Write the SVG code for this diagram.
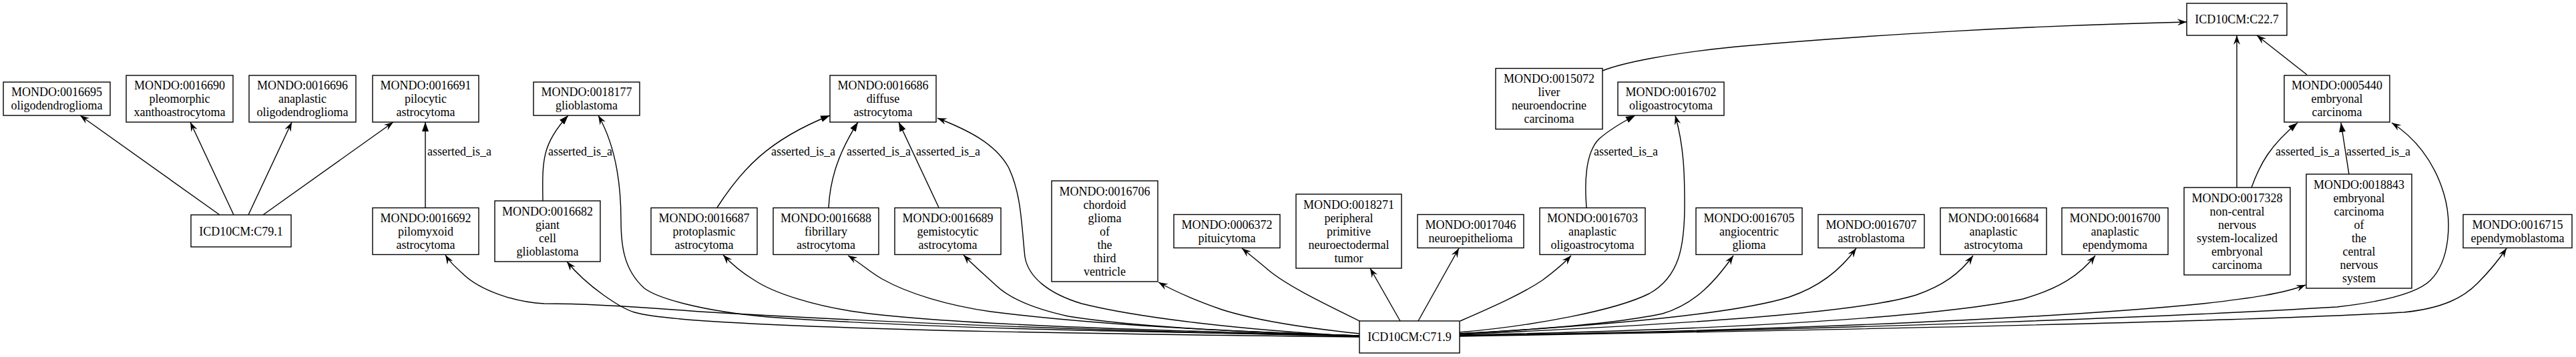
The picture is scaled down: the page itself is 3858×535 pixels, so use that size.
<svg xmlns="http://www.w3.org/2000/svg" width="3858" height="535" viewBox="0 0 3858 535">
<style>
.node rect{fill:#fff;stroke:#000;stroke-width:1.4}
.node text,.lbl{font-family:"Liberation Serif","Times New Roman",serif;font-size:18px;fill:#000;text-anchor:middle}
.e{fill:none;stroke:#000;stroke-width:1.4}
.v{marker-end:url(#vee)}
.t{marker-end:url(#tri)}
</style>
<defs>
<marker id="vee" viewBox="0 0 14 10" refX="14" refY="5" markerWidth="14" markerHeight="10" orient="auto" markerUnits="userSpaceOnUse"><path d="M0,0 L14,5 L0,10 L5,5 Z" fill="#000"/></marker>
<marker id="tri" viewBox="0 0 14 10" refX="14" refY="5" markerWidth="14" markerHeight="10" orient="auto" markerUnits="userSpaceOnUse"><path d="M0,0 L14,5 L0,10 Z" fill="#000"/></marker>
</defs>
<rect width="3858" height="535" fill="#fff"/>
<g id="edges">
<path class="e v" d="M329,322 L120,173"/>
<path class="e v" d="M350,322 L285,183"/>
<path class="e v" d="M372,322 L437,183"/>
<path class="e v" d="M394,322 L589,183"/>
<path class="e t" d="M637,311 L637,183"/>
<text class="lbl" x="688" y="233">asserted_is_a</text>
<path class="e t" d="M813,301 C812,240 812,215 851,173"/>
<text class="lbl" x="869" y="233">asserted_is_a</text>
<path class="e v" d="M2036,503 C1700,497 1400,493 1150,475 C1050,466 985,447 965,432 C935,405 930,370 930,330 C930,270 920,215 896,173"/>
<path class="e v" d="M2036,504 C1600,495 1300,482 1048,467 C960,460 880,455 815,455 C770,453 720,435 695,412 C682,400 673,392 667,382"/>
<path class="e v" d="M2036,505 C1600,500 1300,495 1089,483 C1020,479 975,475 950,468 C930,462 880,430 849,392"/>
<path class="e v" d="M2036,503 C1700,495 1400,485 1280,467 C1220,458 1160,440 1130,420 C1110,408 1095,395 1083,382"/>
<path class="e v" d="M2036,503 C1850,497 1650,488 1484,467 C1420,458 1360,440 1321,418 C1300,406 1290,395 1270,383"/>
<path class="e v" d="M2036,503 C1850,497 1700,490 1600,474 C1545,462 1510,445 1492,428 C1475,412 1458,398 1443,382"/>
<path class="e v" d="M2036,504 C1850,494 1700,475 1620,455 C1570,440 1540,415 1535,385 C1530,340 1530,290 1510,250 C1490,215 1450,195 1404,177"/>
<path class="e v" d="M2036,500 C1960,492 1880,480 1830,464 C1790,450 1760,437 1735,423"/>
<path class="e v" d="M2036,481 C1990,458 1930,430 1900,405 C1885,392 1872,382 1860,372"/>
<path class="e v" d="M2097,481 L2052,402"/>
<path class="e v" d="M2124,481 L2185,372"/>
<path class="e v" d="M2187,481 C2240,458 2280,440 2310,420 C2330,405 2342,395 2353,383"/>
<path class="e v" d="M2186,498 C2300,488 2420,465 2470,440 C2515,415 2523,370 2523,307 C2523,260 2522,220 2509,173"/>
<path class="e v" d="M2186,500 C2300,494 2420,485 2490,470 C2540,455 2570,420 2596,383"/>
<path class="e v" d="M2186,500 C2400,488 2600,470 2680,445 C2730,428 2760,400 2780,372"/>
<path class="e v" d="M2186,501 C2500,487 2780,470 2870,442 C2910,428 2935,410 2955,383"/>
<path class="e v" d="M2186,502 C2600,494 2900,475 3030,448 C3085,432 3115,412 3138,383"/>
<path class="e v" d="M2186,503 C2700,495 3100,475 3300,455 C3370,447 3420,440 3453,427"/>
<path class="e v" d="M2186,503 C2800,494 3300,472 3500,460 C3570,452 3620,440 3640,420 C3670,390 3672,330 3660,290 C3645,240 3615,205 3582,184"/>
<path class="e v" d="M2186,504 C2900,492 3400,480 3600,468 C3660,462 3690,445 3710,425 C3728,407 3742,390 3754,372"/>
<path class="e t" d="M2376,311 C2372,260 2378,225 2395,208 C2410,195 2430,183 2449,173"/>
<text class="lbl" x="2435" y="233">asserted_is_a</text>
<path class="e v" d="M2400,106 C2430,94 2500,80 2600,70 C2800,52 3050,38 3275,33"/>
<path class="e v" d="M3350,281 L3350,53"/>
<path class="e v" d="M3455,112 L3380,53"/>
<path class="e t" d="M3372,281 C3385,245 3400,218 3441,184"/>
<text class="lbl" x="3456" y="233">asserted_is_a</text>
<path class="e t" d="M3518,261 L3506,184"/>
<text class="lbl" x="3562" y="233">asserted_is_a</text>
<path class="e t" d="M1074,311 C1110,255 1150,210 1243,173"/>
<text class="lbl" x="1203" y="233">asserted_is_a</text>
<path class="e t" d="M1241,311 C1243,270 1255,230 1285,183"/>
<text class="lbl" x="1316" y="233">asserted_is_a</text>
<path class="e t" d="M1406,311 L1346,183"/>
<text class="lbl" x="1420" y="233">asserted_is_a</text>
</g>
<g id="n0016695" class="node"><rect x="5" y="123" width="160" height="50"/><text><tspan x="85" y="144">MONDO:0016695</tspan><tspan x="85" y="164">oligodendroglioma</tspan></text></g>
<g id="n0016690" class="node"><rect x="189" y="113" width="160" height="70"/><text><tspan x="269" y="134">MONDO:0016690</tspan><tspan x="269" y="154">pleomorphic</tspan><tspan x="269" y="174">xanthoastrocytoma</tspan></text></g>
<g id="n0016696" class="node"><rect x="373" y="113" width="160" height="70"/><text><tspan x="453" y="134">MONDO:0016696</tspan><tspan x="453" y="154">anaplastic</tspan><tspan x="453" y="174">oligodendroglioma</tspan></text></g>
<g id="n0016691" class="node"><rect x="558" y="113" width="159" height="70"/><text><tspan x="637.5" y="134">MONDO:0016691</tspan><tspan x="637.5" y="154">pilocytic</tspan><tspan x="637.5" y="174">astrocytoma</tspan></text></g>
<g id="nC79_1" class="node"><rect x="286" y="322" width="150" height="48"/><text><tspan x="361" y="352.5">ICD10CM:C79.1</tspan></text></g>
<g id="n0016692" class="node"><rect x="558" y="311.5" width="159" height="70"/><text><tspan x="637.5" y="332.5">MONDO:0016692</tspan><tspan x="637.5" y="352.5">pilomyxoid</tspan><tspan x="637.5" y="372.5">astrocytoma</tspan></text></g>
<g id="n0018177" class="node"><rect x="799" y="123" width="159" height="50"/><text><tspan x="878.5" y="144">MONDO:0018177</tspan><tspan x="878.5" y="164">glioblastoma</tspan></text></g>
<g id="n0016682" class="node"><rect x="741" y="301" width="158" height="91"/><text><tspan x="820" y="322.5">MONDO:0016682</tspan><tspan x="820" y="342.5">giant</tspan><tspan x="820" y="362.5">cell</tspan><tspan x="820" y="382.5">glioblastoma</tspan></text></g>
<g id="n0016687" class="node"><rect x="975" y="311.5" width="159" height="70"/><text><tspan x="1054.5" y="332.5">MONDO:0016687</tspan><tspan x="1054.5" y="352.5">protoplasmic</tspan><tspan x="1054.5" y="372.5">astrocytoma</tspan></text></g>
<g id="n0016688" class="node"><rect x="1158" y="311.5" width="158" height="70"/><text><tspan x="1237" y="332.5">MONDO:0016688</tspan><tspan x="1237" y="352.5">fibrillary</tspan><tspan x="1237" y="372.5">astrocytoma</tspan></text></g>
<g id="n0016686" class="node"><rect x="1243" y="113" width="159" height="70"/><text><tspan x="1322.5" y="134">MONDO:0016686</tspan><tspan x="1322.5" y="154">diffuse</tspan><tspan x="1322.5" y="174">astrocytoma</tspan></text></g>
<g id="n0016689" class="node"><rect x="1340" y="311.5" width="159" height="70"/><text><tspan x="1419.5" y="332.5">MONDO:0016689</tspan><tspan x="1419.5" y="352.5">gemistocytic</tspan><tspan x="1419.5" y="372.5">astrocytoma</tspan></text></g>
<g id="n0016706" class="node"><rect x="1575" y="271" width="159" height="151"/><text><tspan x="1654.5" y="292.5">MONDO:0016706</tspan><tspan x="1654.5" y="312.5">chordoid</tspan><tspan x="1654.5" y="332.5">glioma</tspan><tspan x="1654.5" y="352.5">of</tspan><tspan x="1654.5" y="372.5">the</tspan><tspan x="1654.5" y="392.5">third</tspan><tspan x="1654.5" y="412.5">ventricle</tspan></text></g>
<g id="n0006372" class="node"><rect x="1758" y="321.5" width="159" height="50"/><text><tspan x="1837.5" y="342.5">MONDO:0006372</tspan><tspan x="1837.5" y="362.5">pituicytoma</tspan></text></g>
<g id="n0018271" class="node"><rect x="1941" y="291" width="158" height="111"/><text><tspan x="2020" y="312.5">MONDO:0018271</tspan><tspan x="2020" y="332.5">peripheral</tspan><tspan x="2020" y="352.5">primitive</tspan><tspan x="2020" y="372.5">neuroectodermal</tspan><tspan x="2020" y="392.5">tumor</tspan></text></g>
<g id="n0017046" class="node"><rect x="2123" y="321.5" width="159" height="50"/><text><tspan x="2202.5" y="342.5">MONDO:0017046</tspan><tspan x="2202.5" y="362.5">neuroepithelioma</tspan></text></g>
<g id="n0016703" class="node"><rect x="2306" y="311.5" width="158" height="70"/><text><tspan x="2385" y="332.5">MONDO:0016703</tspan><tspan x="2385" y="352.5">anaplastic</tspan><tspan x="2385" y="372.5">oligoastrocytoma</tspan></text></g>
<g id="n0015072" class="node"><rect x="2240" y="102.5" width="160" height="91"/><text><tspan x="2320" y="124">MONDO:0015072</tspan><tspan x="2320" y="144">liver</tspan><tspan x="2320" y="164">neuroendocrine</tspan><tspan x="2320" y="184">carcinoma</tspan></text></g>
<g id="n0016702" class="node"><rect x="2423" y="123" width="159" height="50"/><text><tspan x="2502.5" y="144">MONDO:0016702</tspan><tspan x="2502.5" y="164">oligoastrocytoma</tspan></text></g>
<g id="nC71_9" class="node"><rect x="2036" y="481" width="150" height="48"/><text><tspan x="2111" y="511">ICD10CM:C71.9</tspan></text></g>
<g id="n0016705" class="node"><rect x="2540" y="311.5" width="159" height="70"/><text><tspan x="2619.5" y="332.5">MONDO:0016705</tspan><tspan x="2619.5" y="352.5">angiocentric</tspan><tspan x="2619.5" y="372.5">glioma</tspan></text></g>
<g id="n0016707" class="node"><rect x="2723" y="321.5" width="159" height="50"/><text><tspan x="2802.5" y="342.5">MONDO:0016707</tspan><tspan x="2802.5" y="362.5">astroblastoma</tspan></text></g>
<g id="n0016684" class="node"><rect x="2906" y="311.5" width="159" height="70"/><text><tspan x="2985.5" y="332.5">MONDO:0016684</tspan><tspan x="2985.5" y="352.5">anaplastic</tspan><tspan x="2985.5" y="372.5">astrocytoma</tspan></text></g>
<g id="n0016700" class="node"><rect x="3088" y="311.5" width="159" height="70"/><text><tspan x="3167.5" y="332.5">MONDO:0016700</tspan><tspan x="3167.5" y="352.5">anaplastic</tspan><tspan x="3167.5" y="372.5">ependymoma</tspan></text></g>
<g id="nC22_7" class="node"><rect x="3275" y="5" width="150" height="48"/><text><tspan x="3350" y="35">ICD10CM:C22.7</tspan></text></g>
<g id="n0005440" class="node"><rect x="3421" y="113" width="158" height="70"/><text><tspan x="3500" y="134">MONDO:0005440</tspan><tspan x="3500" y="154">embryonal</tspan><tspan x="3500" y="174">carcinoma</tspan></text></g>
<g id="n0017328" class="node"><rect x="3271" y="281" width="159" height="131"/><text><tspan x="3350.5" y="302.5">MONDO:0017328</tspan><tspan x="3350.5" y="322.5">non-central</tspan><tspan x="3350.5" y="342.5">nervous</tspan><tspan x="3350.5" y="362.5">system-localized</tspan><tspan x="3350.5" y="382.5">embryonal</tspan><tspan x="3350.5" y="402.5">carcinoma</tspan></text></g>
<g id="n0018843" class="node"><rect x="3454" y="261" width="158" height="171"/><text><tspan x="3533" y="282.5">MONDO:0018843</tspan><tspan x="3533" y="302.5">embryonal</tspan><tspan x="3533" y="322.5">carcinoma</tspan><tspan x="3533" y="342.5">of</tspan><tspan x="3533" y="362.5">the</tspan><tspan x="3533" y="382.5">central</tspan><tspan x="3533" y="402.5">nervous</tspan><tspan x="3533" y="422.5">system</tspan></text></g>
<g id="n0016715" class="node"><rect x="3689" y="321.5" width="163" height="50"/><text><tspan x="3770.5" y="342.5">MONDO:0016715</tspan><tspan x="3770.5" y="362.5">ependymoblastoma</tspan></text></g>
</svg>
